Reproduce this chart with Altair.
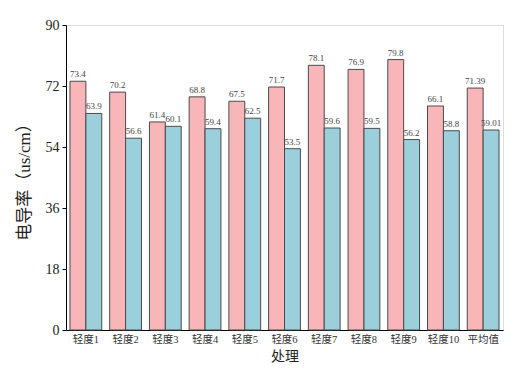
import altair as alt
import pandas as pd

categories = ["轻度1", "轻度2", "轻度3", "轻度4", "轻度5", "轻度6", "轻度7", "轻度8", "轻度9", "轻度10", "平均值"]
series_a = [73.4, 70.2, 61.4, 68.8, 67.5, 71.7, 78.1, 76.9, 79.8, 66.1, 71.39]
series_b = [63.9, 56.6, 60.1, 59.4, 62.5, 53.5, 59.6, 59.5, 56.2, 58.8, 59.01]
labels_a = ["73.4", "70.2", "61.4", "68.8", "67.5", "71.7", "78.1", "76.9", "79.8", "66.1", "71.39"]
labels_b = ["63.9", "56.6", "60.1", "59.4", "62.5", "53.5", "59.6", "59.5", "56.2", "58.8", "59.01"]
y_ticks = [0, 18, 36, 54, 72, 90]

rows = []
for i, c in enumerate(categories):
    rows.append({"cat": c, "grp": "A", "val": series_a[i], "lab": labels_a[i]})
    rows.append({"cat": c, "grp": "B", "val": series_b[i], "lab": labels_b[i]})
df = pd.DataFrame(rows)

FONT = "Liberation Serif, Noto Sans CJK SC"

x = alt.X("cat:N", sort=categories, title="处理",
          scale=alt.Scale(paddingInner=0.2, paddingOuter=0.1),
          axis=alt.Axis(labelAngle=0, ticks=False, domainColor="black", labelFont=FONT,
                        labelFontSize=10.5, labelColor="#333", labelFontWeight="normal",
                        titleFont=FONT, titleFontSize=14,
                        titleFontWeight="normal", titleColor="#222", labelPadding=4, titlePadding=5))
xo = alt.XOffset("grp:N", scale=alt.Scale(paddingInner=0, paddingOuter=0))
y = alt.Y("val:Q", title="电导率（us/cm）",
          scale=alt.Scale(domain=[0, 90], nice=False),
          axis=alt.Axis(values=y_ticks, grid=False, domainColor="black", tickColor="black",
                        tickSize=4, labelFont=FONT, labelFontSize=14, labelColor="#222",
                        titleFont=FONT, titleFontSize=17, titleFontWeight="normal",
                        titleColor="#222", labelPadding=3, titlePadding=12))

color = alt.Color("grp:N", scale=alt.Scale(domain=["A", "B"], range=["#F9B6B8", "#9BCFDB"]), legend=None)

bars = alt.Chart(df).mark_bar(stroke="#4a4a4a", strokeWidth=1).encode(x=x, xOffset=xo, y=y, color=color)
text = alt.Chart(df).mark_text(baseline="bottom", dy=-2, font=FONT, fontSize=9, color="#444").encode(
    x=x, xOffset=xo, y=y, text="lab:N")

chart = alt.layer(bars, text).properties(
    width=437, height=305,
    autosize=alt.AutoSizeParams(type="none"),
    padding={"left": 58, "top": 17, "right": 8, "bottom": 38},
).configure_view(stroke=None).configure(background="white")

chart.save("out.html", embed_options={"renderer": "svg", "actions": False})
